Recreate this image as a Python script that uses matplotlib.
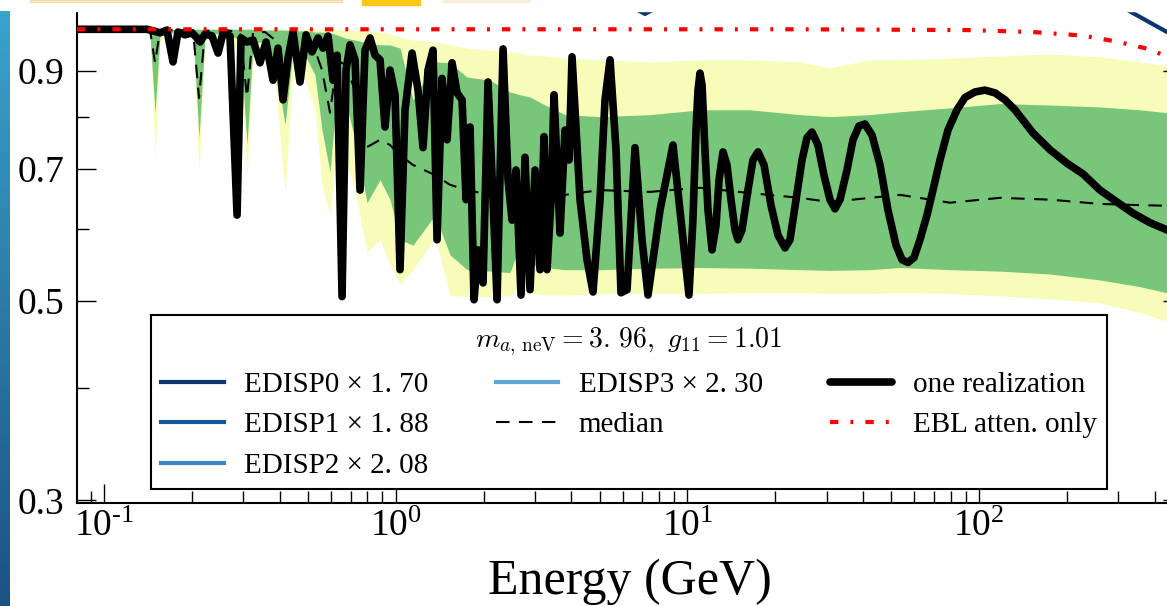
import numpy as np
import matplotlib
matplotlib.use("Agg")
import matplotlib.pyplot as plt
from matplotlib.lines import Line2D
from matplotlib.patches import Rectangle
from matplotlib.font_manager import FontProperties
from matplotlib.ticker import FixedLocator, NullFormatter, LogLocator

plt.rcParams['font.family'] = ['Liberation Serif', 'DejaVu Serif']
plt.rcParams['mathtext.fontset'] = 'custom'
plt.rcParams['mathtext.rm'] = 'Liberation Serif'
plt.rcParams['mathtext.it'] = 'Liberation Serif:italic'

# ---- donnees ----
# une realisation (trait noir epais)
real_E = [0.0808, 0.1404, 0.1472, 0.1556, 0.1644, 0.1724, 0.1793, 0.1895, 0.2003, 0.2084,
          0.2134, 0.2220, 0.2346, 0.2460, 0.2559, 0.2704, 0.2858, 0.2949, 0.3092, 0.3242,
          0.3426, 0.3593, 0.3797, 0.3949, 0.4108, 0.4274, 0.4446, 0.4698, 0.4926, 0.5165,
          0.5416, 0.5634, 0.5861, 0.6096, 0.6293, 0.6546, 0.6756, 0.6972, 0.7252, 0.7544,
          0.7847, 0.8164, 0.8492, 0.8834, 0.9189, 0.956, 0.9944, 1.0345, 1.0761, 1.1374,
          1.1924, 1.2404, 1.2903, 1.3422, 1.3855, 1.4413, 1.4993, 1.5597, 1.6224, 1.6878,
          1.7419, 1.7976, 1.8551, 1.9147, 1.9917, 2.0720, 2.1553, 2.2247, 2.3322, 2.4263,
          2.5044, 2.5838, 2.6881, 2.7742, 2.886, 3.002, 3.123, 3.223, 3.301, 3.407,
          3.488, 3.657, 3.804, 3.927, 4.021, 4.283, 4.526, 4.745, 5.015, 5.217,
          5.427, 5.690, 5.918, 6.207, 6.611, 6.986, 7.324, 8.052, 8.921, 9.504,
          10.12, 10.44, 10.70, 10.87, 11.04, 11.22, 11.48, 11.76, 12.14, 12.53,
          12.83, 13.24, 13.66, 14.10, 14.55, 14.90, 15.38, 16.12, 16.77, 17.45,
          18.30, 19.33, 20.43, 21.59, 22.46, 23.56, 24.70, 25.69, 26.72, 28.01,
          29.37, 30.80, 32.04, 33.33, 35.23, 36.93, 38.72, 40.60, 42.92, 45.71,
          48.68, 51.86, 54.38, 57.01, 59.77, 62.67, 66.24, 69.44, 73.39, 78.17,
          83.93, 89.39, 96.74, 104.6, 113.3, 122.6, 132.6, 153.0, 174.9, 200.0,
          226.9, 259.5, 296.8, 336.8, 385.1, 440.5, 495.7]
real_P = [1.000, 1.000, 0.996, 0.991, 0.998, 0.920, 0.993, 0.986, 0.991, 0.978,
          0.968, 0.988, 0.983, 0.941, 0.991, 0.983, 0.622, 0.978, 0.968, 0.973,
          0.918, 0.968, 0.878, 0.953, 0.835, 0.929, 0.993, 0.874, 0.986, 0.944,
          0.978, 0.953, 0.983, 0.878, 0.936, 0.505, 0.901, 0.961, 0.925, 0.663,
          0.948, 0.978, 0.936, 0.925, 0.779, 0.901, 0.846, 0.541, 0.814, 0.941,
          0.856, 0.739, 0.901, 0.948, 0.584, 0.882, 0.754, 0.918, 0.850, 0.835,
          0.647, 0.779, 0.501, 0.569, 0.523, 0.874, 0.647, 0.501, 0.951, 0.681,
          0.614, 0.698, 0.507, 0.721, 0.514, 0.698, 0.541, 0.760, 0.541, 0.647,
          0.846, 0.594, 0.773, 0.716, 0.932, 0.647, 0.555, 0.511, 0.647, 0.835,
          0.925, 0.735, 0.510, 0.514, 0.739, 0.584, 0.507, 0.630, 0.744, 0.614,
          0.507, 0.614, 0.773, 0.856, 0.894, 0.867, 0.735, 0.630, 0.569, 0.606,
          0.681, 0.731, 0.707, 0.647, 0.599, 0.584, 0.599, 0.663, 0.716, 0.731,
          0.707, 0.638, 0.591, 0.572, 0.584, 0.647, 0.716, 0.758, 0.769, 0.744,
          0.689, 0.647, 0.632, 0.647, 0.698, 0.754, 0.781, 0.785, 0.763, 0.707,
          0.630, 0.576, 0.555, 0.551, 0.558, 0.584, 0.622, 0.663, 0.716, 0.773,
          0.814, 0.840, 0.852, 0.856, 0.850, 0.835, 0.814, 0.767, 0.735, 0.710,
          0.691, 0.663, 0.643, 0.625, 0.610, 0.599, 0.587]

# bandes 68 % / 95 % et mediane
band_E = [0.0808, 0.138, 0.1438, 0.1496, 0.1556, 0.1752, 0.2019, 0.2117, 0.2220, 0.2599,
          0.2926, 0.3092, 0.3242, 0.3564, 0.3857, 0.4173, 0.4446, 0.4887, 0.5288, 0.5590,
          0.5954, 0.6293, 0.6702, 0.7252, 0.7974, 0.8834, 0.956, 1.0345, 1.146, 1.3636,
          1.5351, 1.7556, 2.105, 2.465, 2.667, 2.886, 3.249, 3.804, 5.015, 7.441,
          11.04, 16.38, 24.31, 30.80, 42.24, 53.52, 79.42, 117.9, 174.9, 259.5,
          355.9, 440.5, 495.7]
hi95 = [1.000, 1.000, 1.000, 1.000, 1.000, 1.000, 1.000, 1.000, 1.000, 1.000,
        1.000, 1.000, 1.000, 1.000, 1.000, 1.000, 1.000, 1.000, 1.000, 1.000,
        1.000, 1.000, 0.998, 0.998, 0.996, 0.993, 0.988, 0.980, 0.973, 0.968,
        0.961, 0.953, 0.948, 0.944, 0.941, 0.936, 0.934, 0.929, 0.925, 0.920,
        0.925, 0.925, 0.920, 0.906, 0.925, 0.925, 0.929, 0.934, 0.939, 0.932,
        0.920, 0.911, 0.901]
hi68 = [1.000, 1.000, 1.000, 1.000, 1.000, 1.000, 1.000, 1.000, 1.000, 1.000,
        1.000, 1.000, 1.000, 0.998, 0.998, 0.998, 0.996, 0.996, 0.993, 0.993,
        0.991, 0.986, 0.978, 0.973, 0.966, 0.961, 0.961, 0.953, 0.835, 0.920,
        0.918, 0.885, 0.878, 0.852, 0.846, 0.841, 0.824, 0.804, 0.800, 0.804,
        0.814, 0.814, 0.804, 0.800, 0.804, 0.810, 0.818, 0.827, 0.824, 0.820,
        0.814, 0.808, 0.804]
lo68 = [1.000, 1.000, 0.986, 0.808, 0.986, 0.993, 0.991, 0.758, 0.986, 0.991,
        0.973, 0.744, 0.961, 0.973, 0.925, 0.783, 0.948, 0.936, 0.890, 0.773,
        0.694, 0.856, 0.835, 0.754, 0.642, 0.681, 0.647, 0.584, 0.576, 0.622,
        0.562, 0.541, 0.539, 0.537, 0.576, 0.548, 0.544, 0.541, 0.541, 0.543,
        0.544, 0.543, 0.541, 0.540, 0.541, 0.544, 0.541, 0.539, 0.535, 0.527,
        0.518, 0.510, 0.505]
lo95 = [1.000, 1.000, 0.986, 0.720, 0.973, 0.986, 0.983, 0.694, 0.973, 0.973,
        0.948, 0.685, 0.925, 0.936, 0.878, 0.660, 0.901, 0.878, 0.814, 0.672,
        0.622, 0.754, 0.716, 0.663, 0.566, 0.584, 0.548, 0.521, 0.541, 0.588,
        0.507, 0.505, 0.505, 0.506, 0.517, 0.510, 0.507, 0.507, 0.509, 0.509,
        0.509, 0.510, 0.510, 0.509, 0.509, 0.510, 0.509, 0.506, 0.502, 0.497,
        0.485, 0.474, 0.467]
median = [1.000, 1.000, 0.998, 0.918, 0.996, 0.998, 0.998, 0.839, 0.996, 0.998,
          0.993, 0.841, 0.991, 0.993, 0.973, 0.850, 0.983, 0.973, 0.948, 0.901,
          0.808, 0.925, 0.913, 0.856, 0.740, 0.754, 0.744, 0.725, 0.707, 0.689,
          0.672, 0.663, 0.655, 0.655, 0.660, 0.655, 0.652, 0.655, 0.663, 0.660,
          0.667, 0.658, 0.650, 0.643, 0.650, 0.655, 0.642, 0.650, 0.647, 0.640,
          0.638, 0.637, 0.635]

# attenuation EBL seule
ebl_E = [0.0808, 1.0, 24.31, 90.8, 153.0, 226.9, 296.8, 385.1, 440.5, 495.7]
ebl_P = [1.000, 1.000, 1.000, 0.998, 0.993, 0.984, 0.969, 0.950, 0.932, 0.920]

# morceaux visibles de la courbe EDISP0 (le reste sort du cadre)
edisp0_E = [6.4, 7.15, 8.0, np.nan, 260.0, 330.0, 440.5, 495.7]
edisp0_P = [1.06, 1.040, 1.06, np.nan, 1.10, 1.046, 0.993, 0.975]

edisp_labels = ['EDISP0 × 1. 70', 'EDISP1 × 1. 88', 'EDISP2 × 2. 08', 'EDISP3 × 2. 30']
edisp_colors = ['#0b3470', '#12569e', '#3d85c3', '#62a5d8']
title = r'$m_{a,\,\mathrm{neV}} = 3.\,96,\ g_{11} = 1.01$'
xtick_vals = [0.1, 1, 10, 100]
xtick_labels = ['$\\mathregular{10^{\u20101}}$', r'$\mathregular{10^{0}}$',
                r'$\mathregular{10^{1}}$', r'$\mathregular{10^{2}}$']
ytick_vals = [0.3, 0.5, 0.7, 0.9]
ytick_labels = ['0.3', '0.5', '0.7', '0.9']

# ---- figure ----
fig = plt.figure(figsize=(11.67, 6.06), dpi=100)
ax = fig.add_axes([77 / 1167, 103 / 606, 1105 / 1167, 511.5 / 606])

ax.fill_between(band_E, lo95, hi95, color='#f7fcb9', lw=0, zorder=1)
ax.fill_between(band_E, lo68, hi68, color='#78c679', lw=0, zorder=2)
med_line, = ax.plot(band_E, median, color='black', lw=1.5, ls=(0, (6.5, 4.5)), zorder=3)
real_line, = ax.plot(real_E, real_P, color='black', lw=5.5, zorder=4,
                     solid_joinstyle='round', solid_capstyle='round')
ebl_line, = ax.plot(ebl_E, ebl_P, color='red', lw=3, ls=(0, (2.0, 2.9, 0.7, 2.9)), zorder=5)
ax.plot(edisp0_E, edisp0_P, color=edisp_colors[0], lw=3, zorder=6)

ax.set_xscale('log')
ax.set_yscale('log')
ax.set_xlim(0.0808, 495.7)
ax.set_ylim(0.298, 1.1014)

ax.xaxis.set_major_locator(FixedLocator(xtick_vals))
ax.set_xticklabels(xtick_labels)
ax.xaxis.set_minor_locator(LogLocator(base=10, subs=np.arange(2, 10), numticks=20))
ax.xaxis.set_minor_formatter(NullFormatter())
ax.yaxis.set_major_locator(FixedLocator(ytick_vals))
ax.set_yticklabels(ytick_labels)
ax.yaxis.set_minor_locator(FixedLocator([0.4, 0.6, 0.8, 1.0]))
ax.yaxis.set_minor_formatter(NullFormatter())

ax.tick_params(which='both', direction='in', top=True, right=True, width=1.0, labelsize=27)
ax.tick_params(which='major', length=14)
ax.tick_params(which='minor', length=8.5)
ax.tick_params(axis='y', pad=9)
ax.tick_params(axis='x', pad=5)
for s in ax.spines.values():
    s.set_linewidth(1.5)

ax.set_xlabel('Energy (GeV)', fontsize=36, labelpad=10)

handles = [Line2D([], [], color=c, lw=3) for c in edisp_colors]
handles += [med_line, real_line, ebl_line]
labels = edisp_labels + ['median', 'one realization', 'EBL atten. only']
leg = ax.legend(handles, labels, ncol=3, loc='lower left',
                bbox_to_anchor=(0.0670, 0.0274, 0.8651, 0.3), mode='expand',
                title=title, fontsize=21,
                title_fontproperties=FontProperties(size=20, math_fontfamily='cm'),
                frameon=True, fancybox=False, edgecolor='black', framealpha=1,
                borderpad=0.35, labelspacing=0.48, handlelength=2.15,
                handletextpad=0.7, borderaxespad=0, columnspacing=2.0)
leg.get_frame().set_linewidth(1.5)
leg.set_zorder(20)

# bord de la diapositive : bande blanche en haut, liseré bleu a gauche
fig.add_artist(Rectangle((0, 1 - 11 / 606), 1, 11 / 606, transform=fig.transFigure,
                         color='white', zorder=30))
fig.add_artist(Rectangle((30 / 1167, 1 - 2 / 606), 312 / 1167, 2 / 606, transform=fig.transFigure,
                         facecolor='#fdf3d2', edgecolor='#f3d9a6', lw=0.8, zorder=31))
fig.add_artist(Rectangle((362 / 1167, 1 - 5 / 606), 58 / 1167, 5 / 606, transform=fig.transFigure,
                         color='#f8c814', zorder=31))
fig.add_artist(Rectangle((443 / 1167, 1 - 2 / 606), 87 / 1167, 2 / 606, transform=fig.transFigure,
                         color='#f8efd9', zorder=31))
strip = fig.add_axes([0, 0, 10 / 1167, 1 - 11 / 606], zorder=40)
grad = np.linspace(0, 1, 256).reshape(-1, 1)
strip.imshow(grad, aspect='auto', cmap=matplotlib.colors.LinearSegmentedColormap.from_list(
    'slide', ['#3aa3cc', '#1c5283']), origin='upper')
strip.set_axis_off()

fig.savefig('out.png', dpi=100)
